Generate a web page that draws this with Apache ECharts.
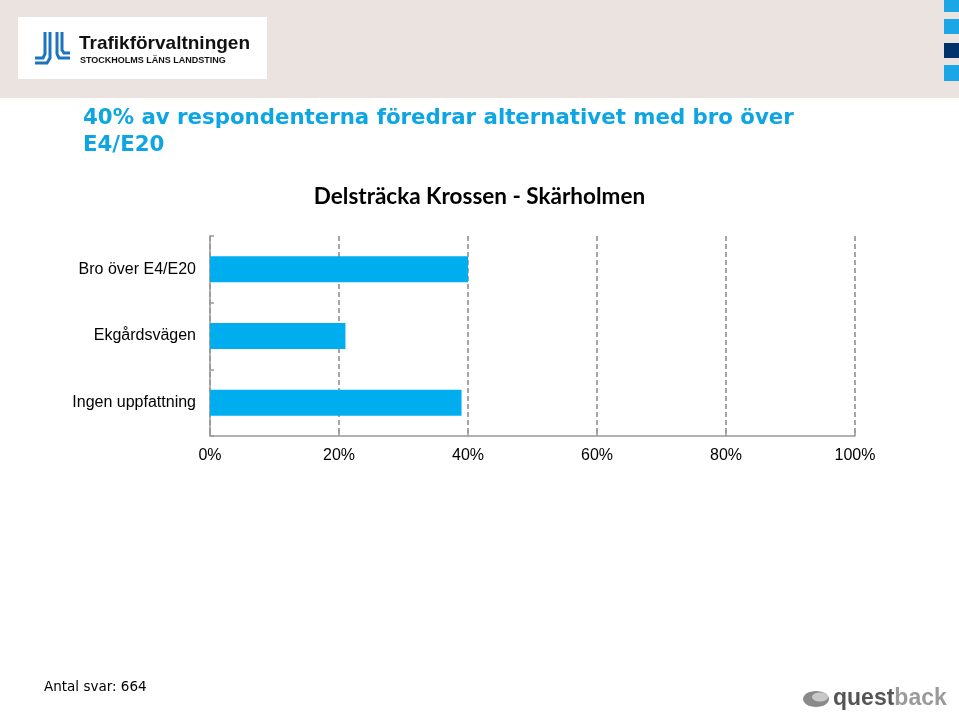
<!DOCTYPE html>
<html><head><meta charset="utf-8">
<script src="https://cdn.jsdelivr.net/npm/echarts@6/dist/echarts.min.js"></script>
<style>html,body{margin:0;padding:0;background:#fff}#c{width:959px;height:716px}</style>
</head><body><div id="c"></div>
<script>
const categories = ['Bro över E4/E20', 'Ekgårdsvägen', 'Ingen uppfattning'];
const values = [40, 21, 39];
const tickLabels = ['0%', '20%', '40%', '60%', '80%', '100%'];
const titleText = '40% av respondenterna föredrar alternativet med bro över\nE4/E20';
const subtitleText = 'Delsträcka Krossen - Skärholmen';
const footnote = 'Antal svar: 664';

const chart = echarts.init(document.getElementById('c'), null, {renderer: 'canvas'});
const blue = '#00AEEF';
chart.setOption({
  animation: false,
  backgroundColor: '#fff',
  grid: {left: 210, right: 104, top: 236, bottom: 280, containLabel: false},
  xAxis: {
    type: 'value', min: 0, max: 100, interval: 20,
    axisLine: {show: true, lineStyle: {color: '#999', width: 1.5}},
    axisTick: {show: true, inside: true, length: 6, lineStyle: {color: '#999', width: 1.5}},
    axisLabel: {margin: 12, color: '#000', fontFamily: 'Liberation Sans', fontSize: 16,
      formatter: (v) => tickLabels[Math.round(v / 20)]},
    splitLine: {show: true, lineStyle: {color: '#888', type: [5, 3], width: 1.5}}
  },
  yAxis: {
    type: 'category', data: categories, inverse: true,
    axisLine: {show: true, lineStyle: {color: '#999', width: 1.5}},
    axisTick: {show: true, inside: true, length: 4, lineStyle: {color: '#999', width: 1.5}},
    axisLabel: {margin: 14, color: '#000', fontFamily: 'Liberation Sans', fontSize: 16},
    splitLine: {show: false}
  },
  series: [{
    type: 'bar', data: values, barWidth: 26,
    itemStyle: {color: blue}
  }],
  graphic: [
    {type: 'rect', shape: {x: 0, y: 0, width: 959, height: 98}, style: {fill: '#EAE3DF'}, z: -1},
    {type: 'rect', shape: {x: 18, y: 17, width: 249, height: 62}, style: {fill: '#fff'}},
    // logo icon
    {type: 'polyline', shape: {points: [[45,32],[45,54],[43,58],[35,58]]}, style: {stroke: '#1C75BC', lineWidth: 3, fill: null}},
    {type: 'polyline', shape: {points: [[50,32],[50,58],[47,63],[35,63]]}, style: {stroke: '#1C75BC', lineWidth: 3, fill: null}},
    {type: 'polyline', shape: {points: [[57,32],[57,54],[59,58],[70,58]]}, style: {stroke: '#1C75BC', lineWidth: 3, fill: null}},
    {type: 'polyline', shape: {points: [[62,32],[62,50],[64,53],[70,53]]}, style: {stroke: '#1C75BC', lineWidth: 3, fill: null}},
    {type: 'text', left: 79, top: 34, style: {text: 'Trafikförvaltningen', fill: '#111', font: 'bold 19px "Liberation Sans Narrow", "Liberation Sans", sans-serif'}},
    {type: 'text', left: 80, top: 56, style: {text: 'STOCKHOLMS LÄNS LANDSTING', fill: '#111', font: 'bold 9px "Liberation Sans Narrow", "Liberation Sans", sans-serif'}},
    // right squares
    {type: 'rect', shape: {x: 944, y: 0, width: 15, height: 12}, style: {fill: '#1BA6E6'}},
    {type: 'rect', shape: {x: 944, y: 19, width: 15, height: 15}, style: {fill: '#1BA6E6'}},
    {type: 'rect', shape: {x: 944, y: 43, width: 15, height: 15}, style: {fill: '#00336A'}},
    {type: 'rect', shape: {x: 944, y: 65, width: 15, height: 16}, style: {fill: '#1BA6E6'}},
    // titles
    {type: 'text', left: 83, top: 105, style: {text: titleText, fill: '#0EA5E3', font: 'bold 21.3px "DejaVu Sans", sans-serif', lineHeight: 27}},
    {type: 'text', left: 'center', top: 185, style: {text: subtitleText, fill: '#000', font: 'bold 22.5px Lato, sans-serif'}},
    {type: 'text', left: 44, top: 680, style: {text: footnote, fill: '#000', font: '13.5px "DejaVu Sans", sans-serif'}},
    // questback logo
    {type: 'ellipse', shape: {cx: 816, cy: 699, rx: 13, ry: 8}, style: {fill: '#8a8a8a'}},
    {type: 'ellipse', shape: {cx: 820, cy: 697, rx: 8, ry: 4.5}, style: {fill: '#c8c8c8'}},
    {type: 'text', left: 833, top: 687, style: {rich: {a: {fill: '#555', font: 'bold 23px "Liberation Sans", sans-serif'}, b: {fill: '#9a9a9a', font: 'bold 23px "Liberation Sans", sans-serif'}}, text: '{a|quest}{b|back}'}}
  ]
});
</script></body></html>
